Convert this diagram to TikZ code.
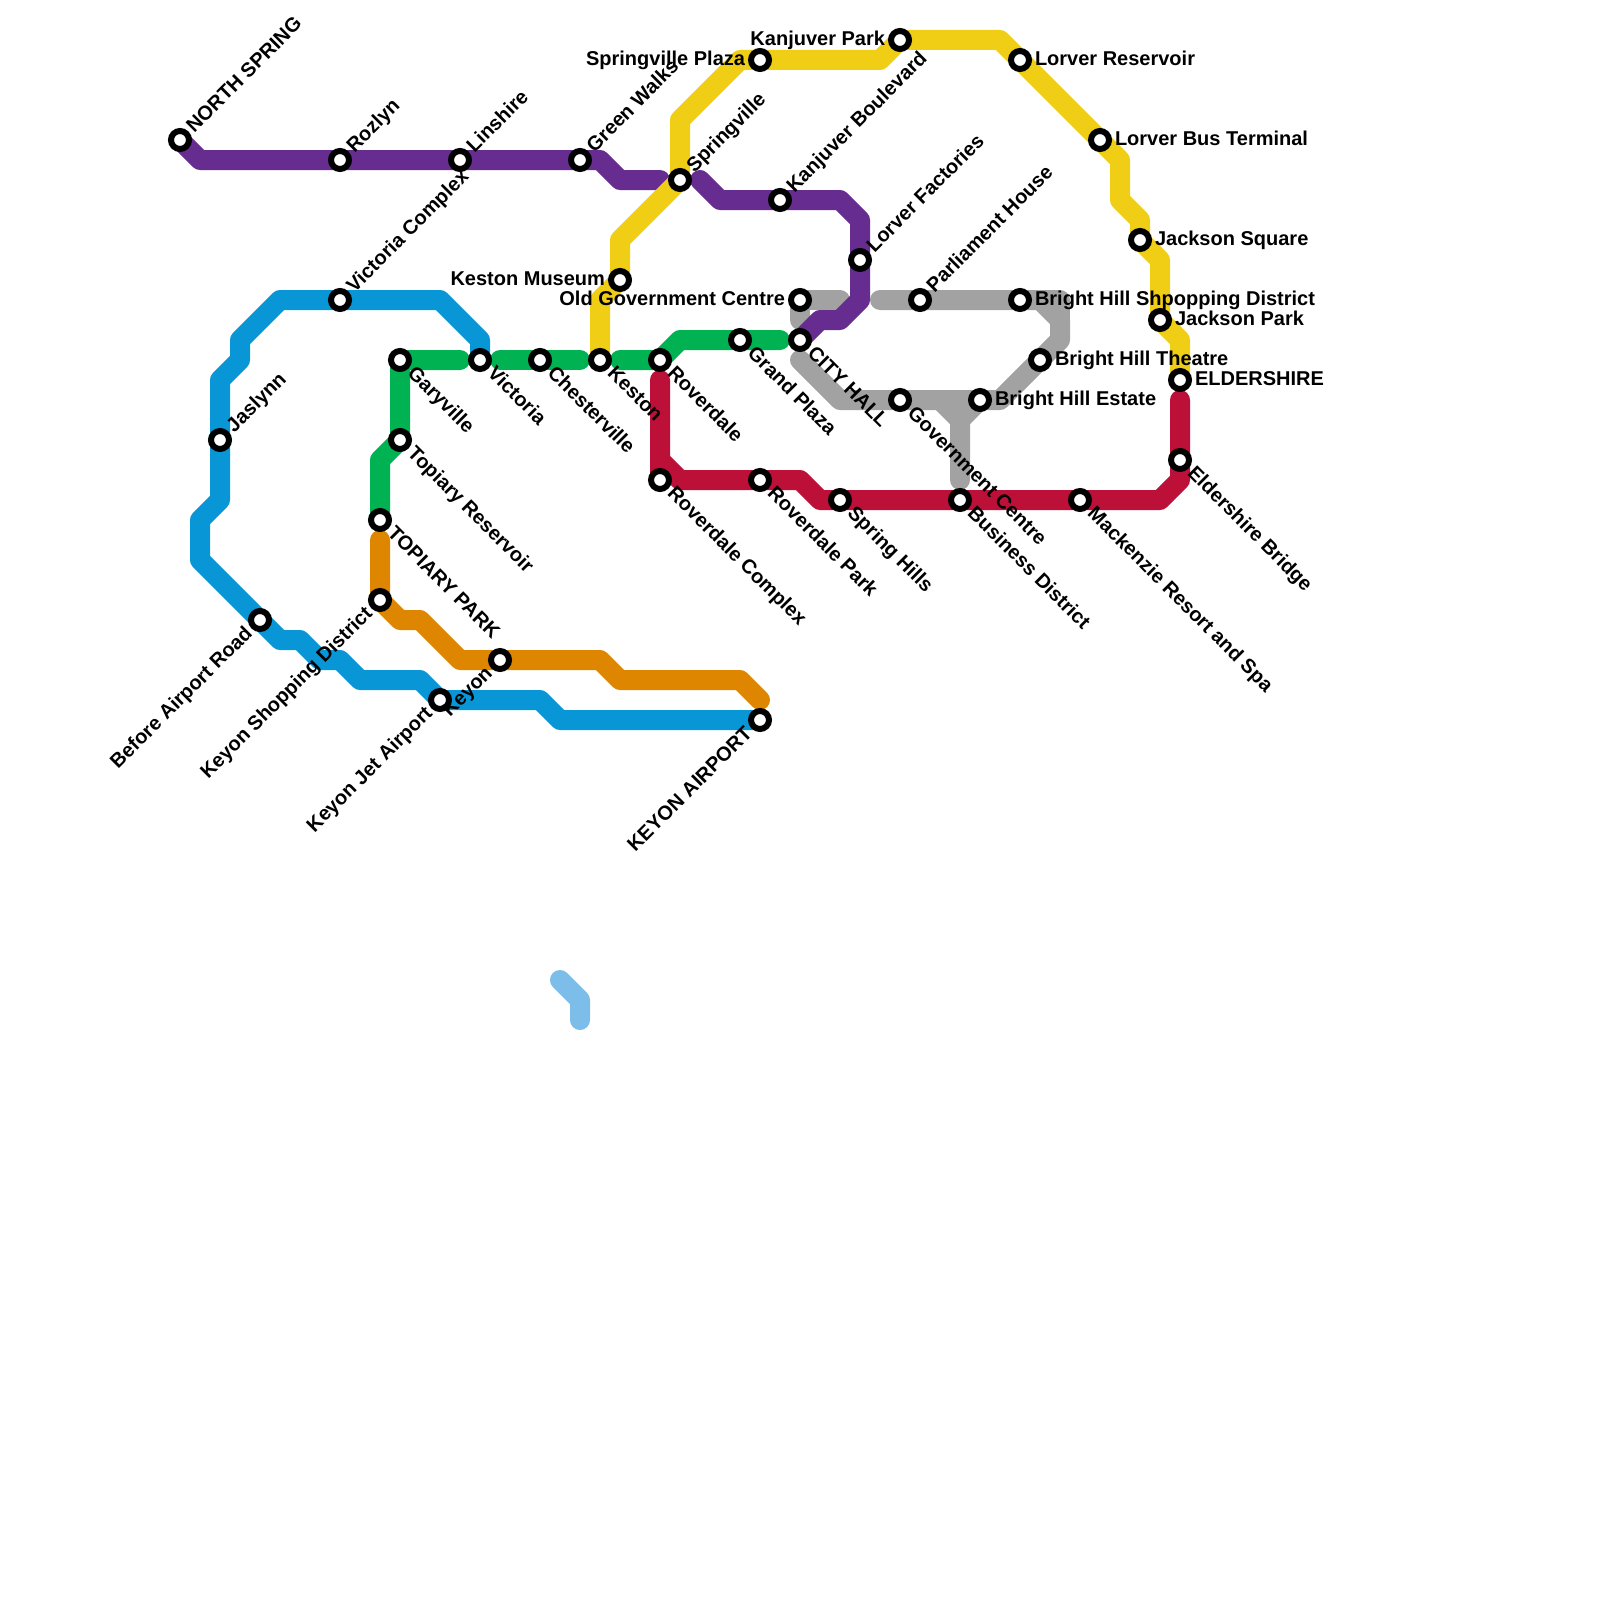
\documentclass[tikz,border=0pt]{standalone}
\usepackage{fontspec}
\setmainfont{Liberation Sans}
\usetikzlibrary{backgrounds,calc}
\definecolor{cpurple}{HTML}{662C90}
\definecolor{cblue}{HTML}{0896D7}
\definecolor{cgreen}{HTML}{00B251}
\definecolor{cyellow}{HTML}{F0CE15}
\definecolor{cred}{HTML}{BD1038}
\definecolor{corange}{HTML}{DF8600}
\definecolor{cgray}{HTML}{A2A2A2}
\definecolor{clight}{HTML}{7CBDEA}
\tikzset{
  x=1pt,y=-1pt,
  metro/.style={line width=20pt,line cap=round,line join=round},
  stop/.style={circle,draw=black,fill=white,line width=6pt,minimum size=18pt,inner sep=0pt,outer sep=0pt},
  lab/.style={font=\fontsize{20}{24}\selectfont\bfseries,text=black,inner sep=0pt,outer sep=0pt},
  dirNE/.style={rotate=45,anchor=base west,shift={(15,5.5)}},
  dirSE/.style={rotate=-45,anchor=base west,shift={(15,5.5)}},
  dirSW/.style={rotate=45,anchor=base east,shift={(-15,5.5)}},
  dirE/.style={anchor=base west,shift={(15,5.5)}},
  dirW/.style={anchor=base east,shift={(-15,5.5)}},
}
\newcommand{\stn}[5]{%
  \node[stop] (#1) at (#2,#3) {};
  \node[lab,dir#4] (#1-l) at (#2,#3) {#5};
}
\begin{document}
\begin{tikzpicture}
\useasboundingbox (0,0) rectangle (1600,1600);
\stn{ns}{180}{140}{NE}{NORTH SPRING}
\stn{roz}{340}{160}{NE}{Rozlyn}
\stn{lin}{460}{160}{NE}{Linshire}
\stn{gw}{580}{160}{NE}{Green Walks}
\stn{spv}{680}{180}{NE}{Springville}
\stn{kb}{780}{200}{NE}{Kanjuver Boulevard}
\stn{lf}{860}{260}{NE}{Lorver Factories}
\stn{vc}{340}{300}{NE}{Victoria Complex}
\stn{jas}{220}{440}{NE}{Jaslynn}
\stn{ph}{920}{300}{NE}{Parliament House}
\stn{gar}{400}{360}{SE}{Garyville}
\stn{top}{400}{440}{SE}{Topiary Reservoir}
\stn{vic}{480}{360}{SE}{Victoria}
\stn{che}{540}{360}{SE}{Chesterville}
\stn{kes}{600}{360}{SE}{Keston}
\stn{rov}{660}{360}{SE}{Roverdale}
\stn{gp}{740}{340}{SE}{Grand Plaza}
\stn{ch}{800}{340}{SE}{CITY HALL}
\stn{gc}{900}{400}{SE}{Government Centre}
\stn{rc}{660}{480}{SE}{Roverdale Complex}
\stn{rp}{760}{480}{SE}{Roverdale Park}
\stn{sh}{840}{500}{SE}{Spring Hills}
\stn{bd}{960}{500}{SE}{Business District}
\stn{mac}{1080}{500}{SE}{Mackenzie Resort and Spa}
\stn{eb}{1180}{460}{SE}{Eldershire Bridge}
\stn{tp}{380}{520}{SE}{TOPIARY PARK}
\stn{bar}{260}{620}{SW}{Before Airport Road}
\stn{ksd}{380}{600}{SW}{Keyon Shopping District}
\stn{kja}{440}{700}{SW}{Keyon Jet Airport}
\stn{key}{500}{660}{SW}{Keyon}
\stn{ka}{760}{720}{SW}{KEYON AIRPORT}
\stn{km}{620}{280}{W}{Keston Museum}
\stn{ogc}{800}{300}{W}{Old Government Centre}
\stn{spz}{760}{60}{W}{Springville Plaza}
\stn{kp}{900}{40}{W}{Kanjuver Park}
\stn{lr}{1020}{60}{E}{Lorver Reservoir}
\stn{lbt}{1100}{140}{E}{Lorver Bus Terminal}
\stn{js}{1140}{240}{E}{Jackson Square}
\stn{jp}{1160}{320}{E}{Jackson Park}
\stn{eld}{1180}{380}{E}{ELDERSHIRE}
\stn{bhs}{1020}{300}{E}{Bright Hill Shpopping District}
\stn{bht}{1040}{360}{E}{Bright Hill Theatre}
\stn{bhe}{980}{400}{E}{Bright Hill Estate}
\coordinate (lightA) at (560,980);
\coordinate (lightB) at (580,1020);
\begin{scope}[on background layer]
  \draw[metro,clight] (lightA) -- (580,1000) -- (lightB);
  \draw[metro,cgray] (840,300) -- (ogc.center) -- (800,320);
  \draw[metro,cgray] (800,360) -- (840,400) -- (gc.center) -- (bhe.center) -- (1000,400) -- (bht.center) -- (1060,340) -- (1060,320) -- (1040,300) -- (bhs.center) -- (ph.center) -- (880,300);
  \draw[metro,cgray] (1040,300) -- (1060,300) -- (1060,320);
  \draw[metro,cgray] (940,400) -- (960,420) -- (960,480);
  \draw[metro,cgray] (bhe.center) -- (960,420);
  \draw[metro,cpurple] (ns.center) -- (200,160) -- (roz.center) -- (lin.center) -- (gw.center) -- (600,160) -- (620,180) -- (660,180);
  \draw[metro,cpurple] (700,180) -- (720,200) -- (kb.center) -- (840,200) -- (860,220) -- (lf.center) -- (860,300) -- (840,320) -- (820,320) -- (ch.center);
  \draw[metro,cyellow] (kes.center) -- (600,300) -- (km.center) -- (620,240) -- (spv.center) -- (680,120) -- (740,60) -- (spz.center) -- (880,60) -- (kp.center) -- (1000,40) -- (lr.center) -- (lbt.center) -- (1120,160) -- (1120,200) -- (1140,220) -- (js.center) -- (1160,260) -- (jp.center) -- (1180,340) -- (eld.center);
  \draw[metro,cred] (660,380) -- (rc.center) -- (660,460) -- (680,480) -- (rp.center) -- (800,480) -- (820,500) -- (sh.center) -- (bd.center) -- (mac.center) -- (1160,500) -- (1180,480) -- (eb.center) -- (1180,400);
  \draw[metro,corange] (380,540) -- (ksd.center) -- (400,620) -- (420,620) -- (460,660) -- (key.center) -- (600,660) -- (620,680) -- (740,680) -- (760,700);
  \draw[metro,cblue] (ka.center) -- (560,720) -- (540,700) -- (kja.center) -- (420,680) -- (360,680) -- (340,660) -- (320,660) -- (300,640) -- (280,640) -- (bar.center) -- (200,560) -- (200,520) -- (220,500) -- (jas.center) -- (220,380) -- (240,360) -- (240,340) -- (280,300) -- (vc.center) -- (440,300) -- (480,340) -- (vic.center);
  \draw[metro,cgreen] (tp.center) -- (380,460) -- (top.center) -- (gar.center) -- (460,360);
  \draw[metro,cgreen] (500,360) -- (che.center) -- (580,360);
  \draw[metro,cgreen] (620,360) -- (rov.center) -- (680,340) -- (gp.center) -- (780,340);
\end{scope}
\end{tikzpicture}
\end{document}
